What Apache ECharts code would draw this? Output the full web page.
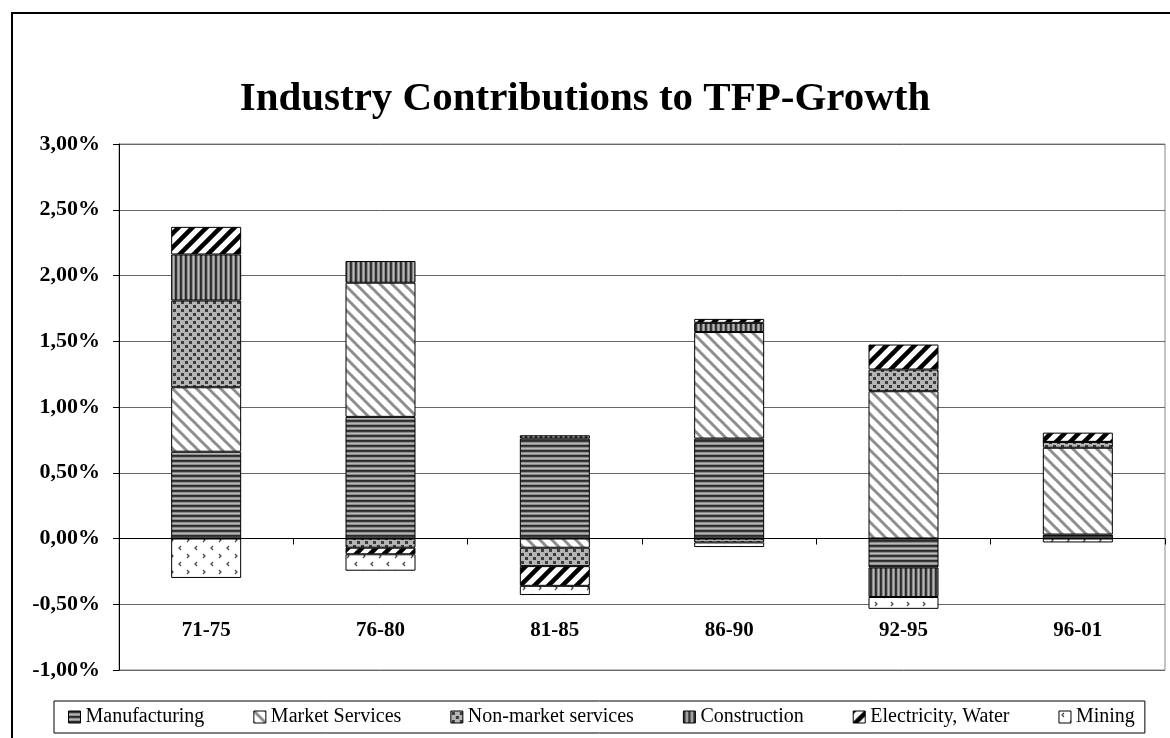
<!DOCTYPE html>
<html>
<head>
<meta charset="utf-8">
<title>Industry Contributions to TFP-Growth</title>
<script src="https://cdn.jsdelivr.net/npm/echarts@6/dist/echarts.min.js"></script>
<style>
html, body { margin: 0; padding: 0; background: #fff; }
#main { width: 1170px; height: 738px; }
</style>
</head>
<body>
<div id="main"></div>
<script type="text/javascript">
// periods on the category axis
var periods = ['71-75', '76-80', '81-85', '86-90', '92-95', '96-01'];

// contributions in percentage points
var manufacturing = [0.66, 0.925, 0.76, 0.76, -0.22, 0.03];
var marketServices = [0.49, 1.02, -0.07, 0.81, 1.12, 0.66];
var nonMarketServices = [0.66, -0.07, -0.14, -0.03, 0.165, 0.045];
var construction = [0.35, 0.165, 0.025, 0.07, -0.225, 0];
var electricityWater = [0.21, -0.05, -0.15, 0.03, 0.19, 0.07];
var mining = [-0.30, -0.125, -0.07, -0.035, -0.09, -0.03];

var yTicks = { min: -1, max: 3, step: 0.5 };

var serif = "'Liberation Serif', 'DejaVu Serif', serif";

// small canvas tiles used as fill patterns (Excel style hatching)
function tile(w, h, draw) {
  var c = document.createElement('canvas');
  c.width = w; c.height = h;
  var ctx = c.getContext('2d');
  draw(ctx, w, h);
  return { image: c, repeat: 'repeat' };
}

var patManufacturing = tile(4, 5, function (ctx, w) {
  var rows = ['#2b2b2b', '#3a3a3a', '#8c8c8c', '#b8b8b8', '#8c8c8c'];
  rows.forEach(function (col, i) { ctx.fillStyle = col; ctx.fillRect(0, i, w, 1); });
});
var patConstruction = tile(5, 4, function (ctx, w, h) {
  var cols = ['#2b2b2b', '#3a3a3a', '#8c8c8c', '#b8b8b8', '#8c8c8c'];
  cols.forEach(function (col, i) { ctx.fillStyle = col; ctx.fillRect(i, 0, 1, h); });
});
var patMarket = tile(12, 12, function (ctx, w, h) {
  ctx.fillStyle = '#fff'; ctx.fillRect(0, 0, w, h);
  ctx.strokeStyle = '#8e8e8e'; ctx.lineWidth = 3;
  [-12, 0, 12].forEach(function (o) {
    ctx.beginPath(); ctx.moveTo(o - 2, -2); ctx.lineTo(o + 14, 14); ctx.stroke();
  });
});
var patElectricity = tile(14, 14, function (ctx, w, h) {
  ctx.fillStyle = '#fff'; ctx.fillRect(0, 0, w, h);
  ctx.strokeStyle = '#000'; ctx.lineWidth = 4.5;
  [0, 14, 28].forEach(function (c) {
    ctx.beginPath(); ctx.moveTo(c + 2, -2); ctx.lineTo(c - 16, 16); ctx.stroke();
  });
});
var patNonMarket = tile(8, 8, function (ctx, w, h) {
  ctx.fillStyle = '#b4b4b4'; ctx.fillRect(0, 0, w, h);
  ctx.fillStyle = '#3c3c3c';
  ctx.fillRect(1, 1, 3, 3);
  ctx.fillRect(5, 5, 3, 3);
});
var patMining = tile(16, 16, function (ctx, w, h) {
  ctx.fillStyle = '#fff'; ctx.fillRect(0, 0, w, h);
  ctx.strokeStyle = '#444'; ctx.lineWidth = 1.2;
  ctx.beginPath(); ctx.moveTo(5, 2); ctx.lineTo(3, 4); ctx.lineTo(5, 6); ctx.stroke();
  ctx.beginPath(); ctx.moveTo(11, 10); ctx.lineTo(13, 12); ctx.lineTo(11, 14); ctx.stroke();
});

function bar(name, data, pattern) {
  return {
    name: name,
    type: 'bar',
    stack: 'total',
    barWidth: 70,
    data: data,
    itemStyle: { color: pattern, borderColor: '#000', borderWidth: 1 }
  };
}

var chart = echarts.init(document.getElementById('main'), null, { renderer: 'canvas' });

var option = {
  animation: false,
  backgroundColor: '#fff',
  graphic: [{
    type: 'rect',
    shape: { x: 12, y: 13, width: 1200, height: 800 },
    style: { fill: 'none', stroke: '#000', lineWidth: 2 },
    z: 100
  }],
  title: {
    text: 'Industry Contributions to TFP-Growth',
    left: 'center',
    top: 74,
    textStyle: { fontFamily: serif, fontWeight: 'bold', fontSize: 41, color: '#000' }
  },
  grid: {
    left: 119, top: 144, right: 5, bottom: 68,
    containLabel: false,
    outerBoundsMode: 'none',
    show: true, borderColor: '#888', borderWidth: 1
  },
  legend: {
    left: 54,
    top: 701,
    padding: [6, 10, 6, 14],
    itemGap: 49,
    itemWidth: 12,
    itemHeight: 12,
    borderColor: '#000',
    borderWidth: 1,
    icon: 'rect',
    itemStyle: { borderColor: '#000', borderWidth: 1 },
    textStyle: { fontFamily: serif, fontSize: 20, color: '#000', lineHeight: 20 }
  },
  xAxis: [{
    // labels near the bottom of the plot
    type: 'category',
    data: periods,
    position: 'bottom',
    axisLine: { show: false, onZero: false },
    axisTick: { show: false },
    axisLabel: {
      interval: 0, inside: true, margin: 29,
      fontFamily: serif, fontWeight: 'bold', fontSize: 21, color: '#000'
    },
    splitLine: { show: false }
  }, {
    // black zero line with ticks between the periods
    type: 'category',
    data: periods,
    position: 'top',
    axisLine: { onZero: true, lineStyle: { color: '#000', width: 1 } },
    axisTick: { show: true, inside: true, interval: 0, length: 6, lineStyle: { color: '#000' } },
    axisLabel: { show: false },
    splitLine: { show: false }
  }],
  yAxis: {
    type: 'value',
    min: yTicks.min,
    max: yTicks.max,
    interval: yTicks.step,
    axisLine: { show: true, lineStyle: { color: '#000', width: 1 } },
    axisTick: { show: true, length: 6, lineStyle: { color: '#000' } },
    axisLabel: {
      margin: 19,
      fontFamily: serif, fontWeight: 'bold', fontSize: 22, color: '#000',
      formatter: function (v) { return v.toFixed(2).replace('.', ',') + '%'; }
    },
    splitLine: { show: true, lineStyle: { color: '#666', width: 1 } }
  },
  series: [
    bar('Manufacturing', manufacturing, patManufacturing),
    bar('Market Services', marketServices, patMarket),
    bar('Non-market services', nonMarketServices, patNonMarket),
    bar('Construction', construction, patConstruction),
    bar('Electricity, Water', electricityWater, patElectricity),
    bar('Mining', mining, patMining)
  ]
};

chart.setOption(option);
</script>
</body>
</html>
